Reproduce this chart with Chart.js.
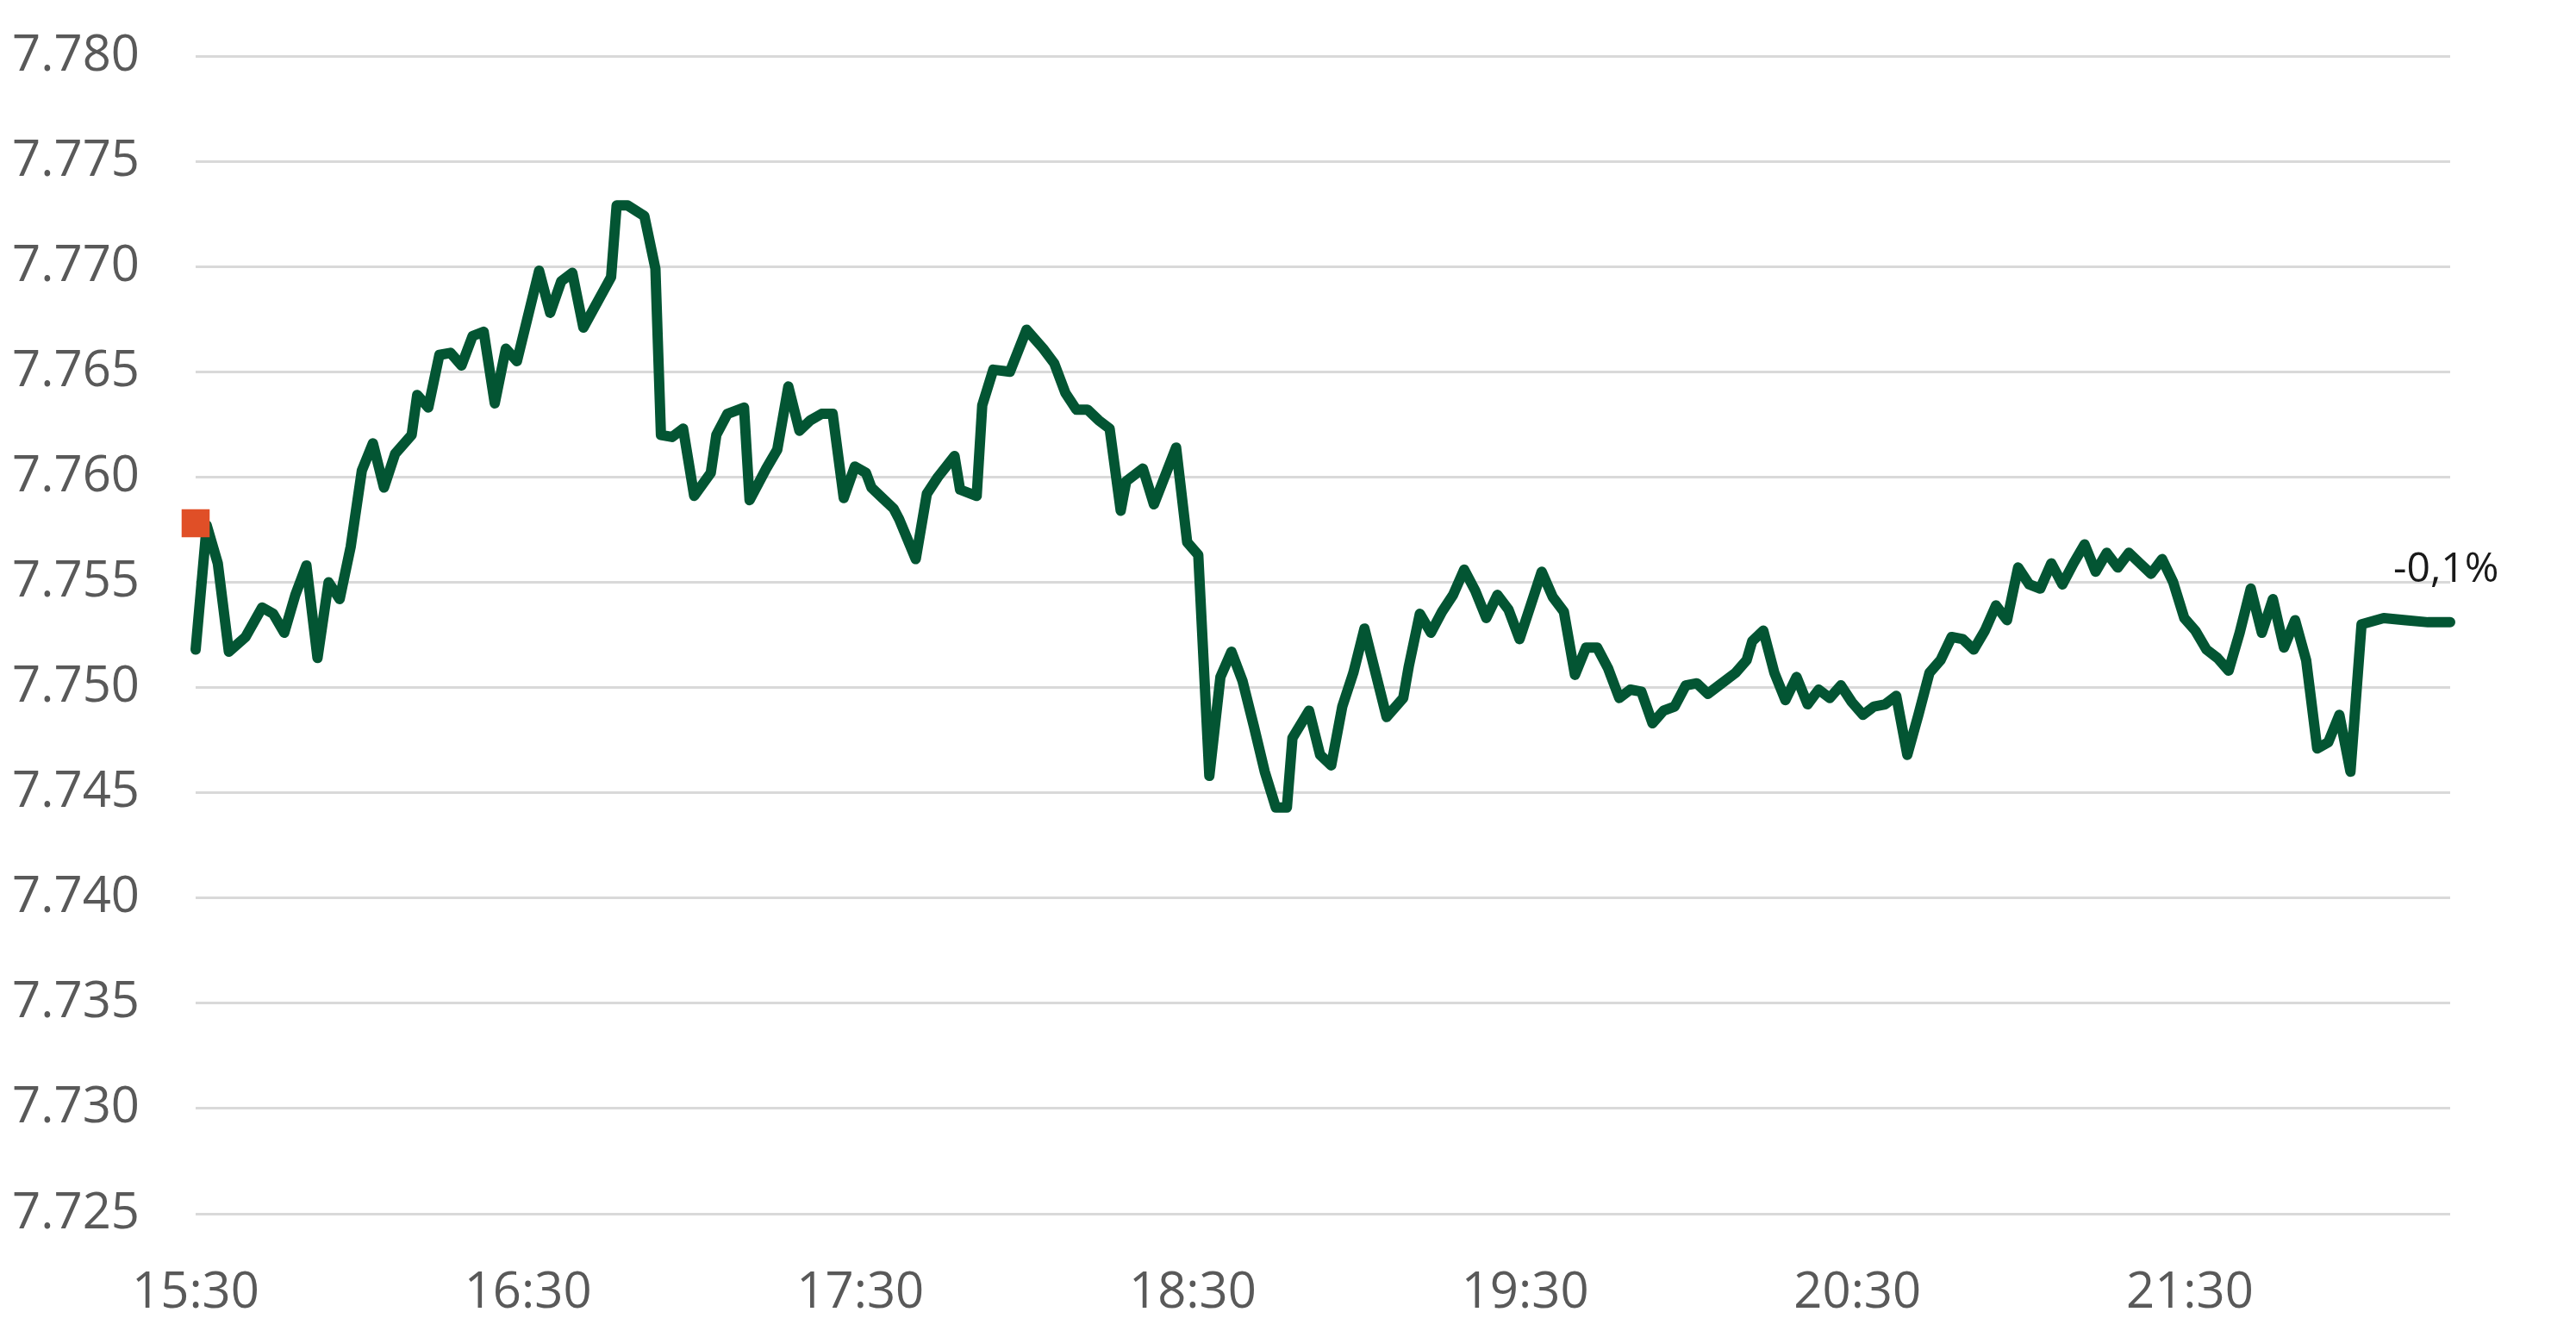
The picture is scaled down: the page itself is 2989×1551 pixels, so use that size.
<!DOCTYPE html>
<html>
<head>
<meta charset="utf-8">
<script src="https://cdn.jsdelivr.net/npm/chart.js@4.4.1/dist/chart.umd.min.js"></script>
<style>
  html, body { margin: 0; padding: 0; background: #fff; }
  #wrap { width: 2989px; height: 1551px; }
</style>
</head>
<body>
<div id="wrap"><canvas id="chart"></canvas></div>
<script>
const times = [
  '15:30','15:32','15:34','15:36','15:39','15:42','15:44','15:46','15:48','15:50',
  '15:52','15:54','15:56','15:58','16:00','16:02','16:04','16:06','16:09','16:10',
  '16:12','16:14','16:16','16:18','16:20','16:22','16:24','16:26','16:28','16:32',
  '16:34','16:36','16:38','16:40','16:45','16:46','16:48','16:51','16:53','16:54',
  '16:56','16:58','17:00','17:03','17:04','17:06','17:09','17:10','17:13','17:15',
  '17:17','17:19','17:21','17:23','17:25','17:27','17:29','17:31','17:32','17:34',
  '17:36','17:37','17:40','17:42','17:44','17:47','17:48','17:51','17:52','17:54',
  '17:57','18:00','18:03','18:05','18:07','18:09','18:11','18:13','18:15','18:17',
  '18:18','18:21','18:23','18:27','18:29','18:31','18:33','18:35','18:37','18:39',
  '18:41','18:43','18:45','18:47','18:48','18:51','18:53','18:55','18:57','18:59',
  '19:01','19:05','19:08','19:09','19:11','19:13','19:15','19:17','19:19','19:21',
  '19:23','19:25','19:27','19:29','19:31','19:33','19:35','19:37','19:39','19:41',
  '19:43','19:45','19:47','19:49','19:51','19:53','19:55','19:57','19:59','20:01',
  '20:03','20:05','20:08','20:10','20:11','20:13','20:15','20:17','20:19','20:21',
  '20:23','20:25','20:27','20:29','20:31','20:33','20:35','20:37','20:39','20:41',
  '20:43','20:45','20:47','20:49','20:51','20:53','20:55','20:57','20:59','21:01',
  '21:03','21:05','21:07','21:09','21:11','21:13','21:15','21:17','21:19','21:21',
  '21:23','21:25','21:27','21:29','21:31','21:33','21:35','21:37','21:39','21:41',
  '21:43','21:45','21:47','21:49','21:51','21:53','21:55','21:57','21:59','22:01',
  '22:05','22:09','22:13','22:17'
];

const rates = [
  7.7518,7.7577,7.7559,7.7517,7.7524,7.7538,7.7535,7.7526,7.7544,7.7558,
  7.7514,7.7550,7.7542,7.7567,7.7603,7.7616,7.7595,7.7611,7.7620,7.7639,
  7.7633,7.7658,7.7659,7.7653,7.7667,7.7669,7.7635,7.7661,7.7655,7.7698,
  7.7678,7.7693,7.7697,7.7671,7.7695,7.7729,7.7729,7.7724,7.7699,7.7620,
  7.7619,7.7623,7.7591,7.7602,7.7620,7.7630,7.7633,7.7589,7.7604,7.7613,
  7.7643,7.7622,7.7627,7.7630,7.7630,7.7590,7.7605,7.7602,7.7595,7.7590,
  7.7585,7.7580,7.7561,7.7592,7.7600,7.7610,7.7594,7.7591,7.7634,7.7651,
  7.7650,7.7670,7.7661,7.7654,7.7640,7.7632,7.7632,7.7627,7.7623,7.7584,
  7.7598,7.7604,7.7587,7.7614,7.7569,7.7563,7.7458,7.7505,7.7517,7.7503,
  7.7482,7.7460,7.7443,7.7443,7.7476,7.7489,7.7468,7.7463,7.7491,7.7507,
  7.7528,7.7486,7.7495,7.7510,7.7535,7.7526,7.7536,7.7544,7.7556,7.7546,
  7.7533,7.7544,7.7537,7.7523,7.7539,7.7555,7.7543,7.7536,7.7506,7.7519,
  7.7519,7.7509,7.7495,7.7499,7.7498,7.7483,7.7489,7.7491,7.7501,7.7502,
  7.7497,7.7501,7.7507,7.7513,7.7522,7.7527,7.7507,7.7494,7.7505,7.7492,
  7.7499,7.7495,7.7501,7.7493,7.7487,7.7491,7.7492,7.7496,7.7468,7.7487,
  7.7507,7.7513,7.7524,7.7523,7.7518,7.7527,7.7539,7.7532,7.7557,7.7549,
  7.7547,7.7559,7.7549,7.7559,7.7568,7.7555,7.7564,7.7557,7.7564,7.7559,
  7.7554,7.7561,7.7550,7.7533,7.7527,7.7518,7.7514,7.7508,7.7526,7.7547,
  7.7526,7.7542,7.7519,7.7532,7.7513,7.7471,7.7474,7.7487,7.7460,7.7530,
  7.7533,7.7532,7.7531,7.7531
];

// previous close, shown as the orange square at the start
const prevClose = 7.7578;

const xTickLabels = ['15:30','16:30','17:30','18:30','19:30','20:30','21:30'];
const yTickLabels = ['7.725','7.730','7.735','7.740','7.745','7.750','7.755','7.760','7.765','7.770','7.775','7.780'];

function toMinutes(t) {
  let p = t.split(':');
  return (+p[0]) * 60 + (+p[1]) - (15 * 60 + 30);
}

function minutesToLabel(m) {
  let total = m + 15 * 60 + 30;
  let h = Math.floor(total / 60);
  let mm = total % 60;
  return h + ':' + (mm < 10 ? '0' : '') + mm;
}

const points = times.map(function(t, i) {
  return {x: toMinutes(t), y: rates[i]};
});

let change = (rates[rates.length - 1] / prevClose - 1) * 100;
const changeLabel = change.toFixed(1).replace('.', ',') + '%';

const tickColor = '#595959';
const tickFont = {family: '"Open Sans", sans-serif', size: 58};

// text next to the last point of the line
const endLabel = {
  id: 'endLabel',
  afterDatasetsDraw(chart) {
    let meta = chart.getDatasetMeta(1);
    let last = meta.data[meta.data.length - 1];
    if (!last) return;
    let ctx = chart.ctx;
    ctx.save();
    ctx.font = '48px "Open Sans", sans-serif';
    ctx.fillStyle = '#1a1a1a';
    ctx.textAlign = 'left';
    ctx.textBaseline = 'alphabetic';
    ctx.fillText(changeLabel, last.x - 66, last.y - 47);
    ctx.restore();
  }
};

let config = {
  type: 'line',
  data: {
    datasets: [
      {
        label: 'prev',
        data: [{x: 0, y: prevClose}],
        showLine: false,
        pointStyle: 'rect',
        pointRadius: 23,
        pointBackgroundColor: '#e04f27',
        pointBorderWidth: 0,
        clip: false,
        order: 0
      },
      {
        label: 'USD/HKD',
        data: points,
        borderColor: '#035533',
        borderWidth: 12,
        borderJoinStyle: 'round',
        borderCapStyle: 'round',
        tension: 0,
        pointRadius: 0,
        clip: false,
        order: 1
      }
    ]
  },
  options: {
    responsive: true,
    maintainAspectRatio: false,
    animation: false,
    devicePixelRatio: 1,
    layout: {
      padding: {top: 65, right: 146, bottom: 0, left: 0}
    },
    plugins: {
      legend: {display: false},
      tooltip: {enabled: false}
    },
    scales: {
      x: {
        type: 'linear',
        min: 0,
        max: toMinutes(times[times.length - 1]),
        grid: {display: false},
        border: {display: false},
        afterBuildTicks: function(scale) {
          scale.ticks = xTickLabels.map(function(l) { return {value: toMinutes(l)}; });
        },
        afterFit: function(scale) {
          scale.height = 143;
          scale.paddingLeft = 0;
          scale.paddingRight = 0;
        },
        ticks: {
          color: tickColor,
          font: tickFont,
          padding: 50,
          maxRotation: 0,
          autoSkip: false,
          callback: function(v) { return minutesToLabel(v); }
        }
      },
      y: {
        min: 7.725,
        max: 7.780,
        border: {display: false},
        grid: {
          color: '#d9d9d9',
          lineWidth: 3,
          drawTicks: false
        },
        afterBuildTicks: function(scale) {
          scale.ticks = yTickLabels.map(function(l) { return {value: parseFloat(l)}; });
        },
        afterFit: function(scale) {
          scale.width = 227;
          scale.paddingTop = 0;
          scale.paddingBottom = 0;
        },
        ticks: {
          color: tickColor,
          font: tickFont,
          padding: 65,
          callback: function(v) { return v.toFixed(3); }
        }
      }
    }
  },
  plugins: [endLabel]
};

let ctx = document.getElementById('chart').getContext('2d');
window.fxChart = new Chart(ctx, config);
</script>
</body>
</html>
